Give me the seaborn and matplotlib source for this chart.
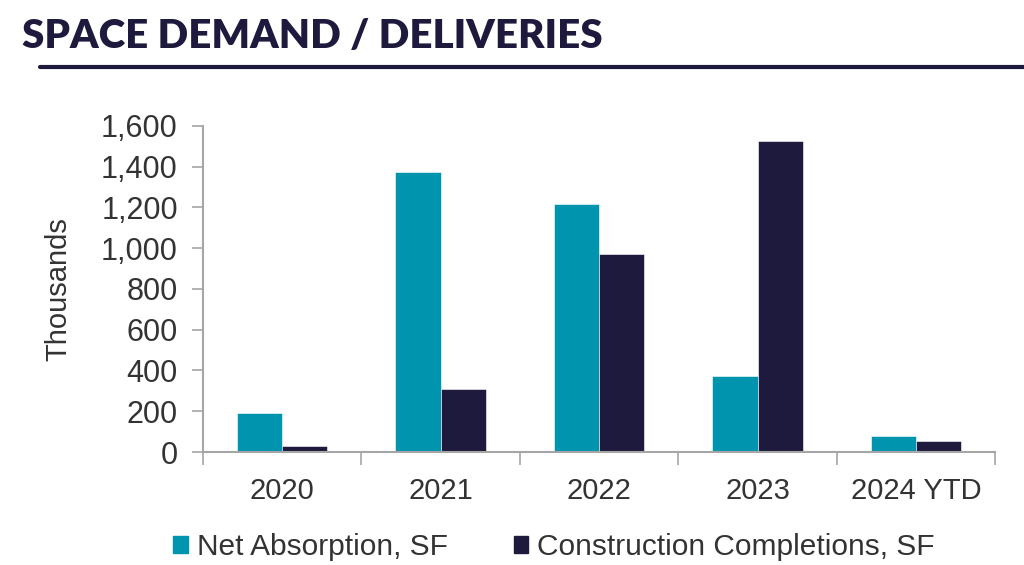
import matplotlib.pyplot as plt
import pandas as pd
import seaborn as sns
from matplotlib.ticker import FuncFormatter, FixedLocator
from matplotlib.lines import Line2D

years = ["2020", "2021", "2022", "2023", "2024 YTD"]
net_absorption = [191, 1374, 1217, 373, 79]
completions = [30, 309, 972, 1526, 54]
series = ["Net Absorption, SF", "Construction Completions, SF"]

df = pd.DataFrame({
    "year": years * 2,
    "value": net_absorption + completions,
    "series": [series[0]] * len(years) + [series[1]] * len(years),
})

sns.set_theme(style="white")
plt.rcParams["font.family"] = ["Liberation Sans", "DejaVu Sans"]

navy = "#1E1A3E"
teal = "#0094AE"
grey = "#A6A6A6"
text_col = "#333333"

fig = plt.figure(figsize=(10.24, 5.65), dpi=100)
ax = fig.add_axes([0.198, 0.2, 0.774, 0.577])

sns.barplot(data=df, x="year", y="value", hue="series", hue_order=series,
            palette=[teal, navy], width=0.57, saturation=1, ax=ax,
            edgecolor="white", linewidth=0.4, legend=False)

ax.set_ylim(0, 1600)
ax.set_xlim(-0.5, len(years) - 0.5)
ax.set_yticks(range(0, 1601, 200))
ax.yaxis.set_major_formatter(FuncFormatter(lambda v, p: f"{int(v):,}"))
ax.tick_params(axis="y", labelsize=22, colors=grey, labelcolor=text_col,
               length=8, width=1.2, left=True, pad=10)
ax.xaxis.set_major_locator(FixedLocator(range(len(years))))
ax.set_xticklabels(years)
ax.xaxis.set_minor_locator(FixedLocator([i - 0.5 for i in range(len(years) + 1)]))
ax.tick_params(axis="x", which="major", length=0, labelsize=21, labelcolor=text_col, pad=18)
ax.tick_params(axis="x", which="minor", length=9, width=1.2, colors=grey, bottom=True)

for side in ["top", "right"]:
    ax.spines[side].set_visible(False)
for side in ["left", "bottom"]:
    ax.spines[side].set_color(grey)
    ax.spines[side].set_linewidth(1.5)

ax.set_xlabel("")
ax.set_ylabel("Thousands", fontsize=21, color=text_col)
ax.yaxis.set_label_coords(-0.164, 0.5)

handles = [plt.Rectangle((0, 0), 1, 1, color=teal), plt.Rectangle((0, 0), 1, 1, color=navy)]
fig.legend(handles, series, loc="center", bbox_to_anchor=(0.541, 0.032), ncol=2,
           frameon=False, fontsize=21.5, handlelength=0.5, handleheight=0.5,
           handletextpad=0.3, columnspacing=2.2, labelcolor=text_col)

fig.text(0.021, 0.935, "SPACE DEMAND / DELIVERIES", fontsize=29, fontweight="heavy",
         color=navy, family=["Lato", "DejaVu Sans"], va="center")
fig.add_artist(Line2D([0.039, 1.0], [0.881, 0.881], color=navy, linewidth=3))

fig.savefig("out.png", dpi=100)
plt.close(fig)
